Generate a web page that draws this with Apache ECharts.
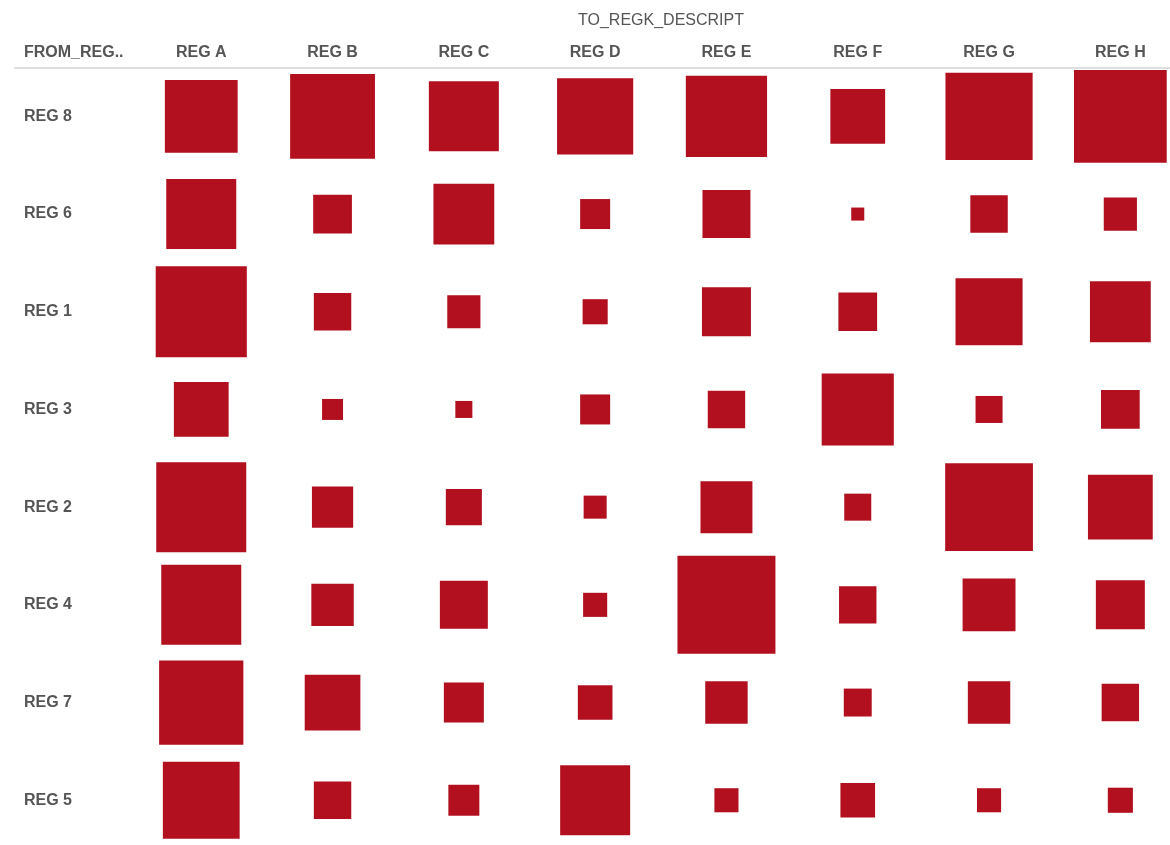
<!DOCTYPE html>
<html>
<head>
<meta charset="utf-8">
<script src="https://cdn.jsdelivr.net/npm/echarts@6/dist/echarts.min.js"></script>
<style>
html,body{margin:0;padding:0;background:#fff;overflow:hidden;}
#c{width:1170px;height:845px;}
</style>
</head>
<body>
<div id="c"></div>
<script>
// Categories
const toRegions = ['REG A','REG B','REG C','REG D','REG E','REG F','REG G','REG H'];
const fromRegions = ['REG 8','REG 6','REG 1','REG 3','REG 2','REG 4','REG 7','REG 5'];
// Size measure per row (order of toRegions), read from square areas
const reg8 = [53, 72, 49, 58, 66, 30, 76, 86];
const reg6 = [49, 15, 37, 9, 23, 1.7, 14, 11];
const reg1 = [83, 14, 11, 6.3, 24, 15, 45, 37];
const reg3 = [30, 4.4, 2.9, 9, 14, 52, 7.3, 15];
const reg2 = [81, 17, 13, 5.3, 27, 7.3, 77, 42];
const reg4 = [64, 18, 23, 5.8, 96, 14, 28, 24];
const reg7 = [71, 31, 16, 12, 18, 7.8, 18, 14];
const reg5 = [59, 14, 9.6, 49, 5.8, 12, 5.8, 6.3];
const rows = [reg8, reg6, reg1, reg3, reg2, reg4, reg7, reg5];

const data = [];
rows.forEach((r, yi) => r.forEach((v, xi) => data.push([toRegions[xi], fromRegions[yi], v])));

const chart = echarts.init(document.getElementById('c'));
const labelStyle = {fontFamily: 'Liberation Sans, Arial, sans-serif', fontSize: 16, fontWeight: 'bold', color: '#555'};
chart.setOption({
  animation: false,
  grid: {left: 135.6, top: 67.5, width: 1050.4, height: 781.6, containLabel: false, outerBoundsMode: 'none'},
  xAxis: {
    type: 'category', data: toRegions, position: 'top',
    axisLine: {show: false}, axisTick: {show: false}, splitLine: {show: false},
    axisLabel: Object.assign({margin: 7}, labelStyle)
  },
  yAxis: {
    type: 'category', data: fromRegions, inverse: true,
    axisLine: {show: false}, axisTick: {show: false}, splitLine: {show: false},
    axisLabel: Object.assign({margin: 111.6, align: 'left'}, labelStyle)
  },
  graphic: [
    {type: 'line', shape: {x1: 14, y1: 68, x2: 1170, y2: 68}, style: {stroke: '#d4d4d4', lineWidth: 1.5}, z: 10},
    {type: 'text', style: {text: 'TO_REGK_DESCRIPT', x: 661, y: 21, textAlign: 'center', textVerticalAlign: 'middle', fontFamily: 'Liberation Sans, Arial, sans-serif', fontSize: 16, fill: '#555'}},
    {type: 'text', style: {text: 'FROM_REG..', x: 24, y: 53, textAlign: 'left', textVerticalAlign: 'middle', fontFamily: 'Liberation Sans, Arial, sans-serif', fontSize: 16, fontWeight: 'bold', fill: '#555'}}
  ],
  series: [{
    type: 'scatter',
    symbol: 'rect',
    data: data,
    symbolSize: v => Math.sqrt(v[2]) * 10,
    itemStyle: {color: '#B2101F', opacity: 1},
    clip: false
  }]
});
</script>
</body>
</html>
